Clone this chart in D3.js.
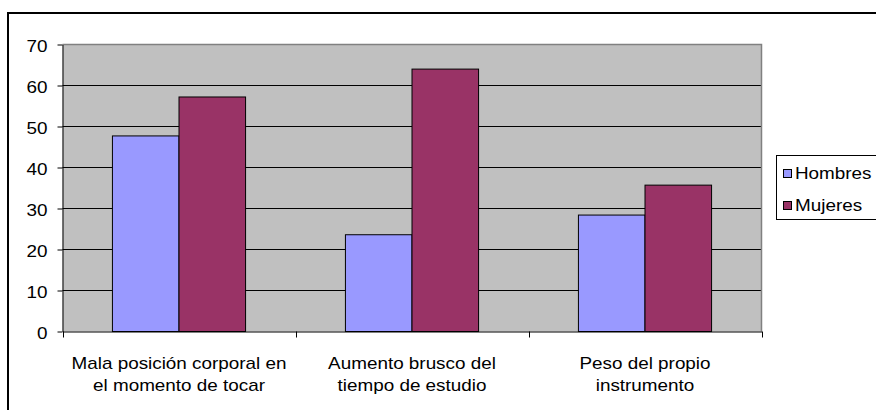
<!DOCTYPE html>
<html>
<head>
<meta charset="utf-8">
<script src="https://cdn.jsdelivr.net/npm/d3@7"></script>
<style>
  html, body { margin: 0; padding: 0; background: #fff; }
  svg { display: block; }
  text { font-family: "Liberation Sans", Arial, sans-serif; font-size: 16px; fill: #000; }
</style>
</head>
<body>
<svg id="chart" width="876" height="410"></svg>
<script>
// Categories (two-line labels) and series values
const categories = [
  ["Mala posición corporal en", "el momento de tocar"],
  ["Aumento brusco del", "tiempo de estudio"],
  ["Peso del propio", "instrumento"]
];
const seriesNames = ["Hombres", "Mujeres"];
const hombres = [47.7, 23.6, 28.4];
const mujeres = [57.2, 64.0, 35.7];
const seriesColors = ["#9999FF", "#993366"];
const yTicks = [0, 10, 20, 30, 40, 50, 60, 70];

const svg = d3.select("#chart");
const TX = 1.18; // horizontal text stretch

const plot = { left: 62.5, right: 761.5, top: 44.5, bottom: 331.5 };

// Outer chart frame (left and top edges visible)
svg.append("rect")
  .attr("x", 8).attr("y", 13)
  .attr("width", 920).attr("height", 450)
  .attr("fill", "none").attr("stroke", "#000").attr("stroke-width", 2);

const catKeys = categories.map((c, i) => i);
const x = d3.scaleBand().domain(catKeys).range([plot.left, plot.right]).paddingInner(0).paddingOuter(0);
const xs = d3.scaleBand().domain(seriesNames).range([0, x.bandwidth()]).paddingInner(0).paddingOuter(0.75);
const y = d3.scaleLinear().domain([0, 70]).range([plot.bottom, plot.top]);

// Plot area background
svg.append("rect")
  .attr("x", plot.left).attr("y", plot.top)
  .attr("width", plot.right - plot.left).attr("height", plot.bottom - plot.top)
  .attr("fill", "#C0C0C0");

// Gridlines
svg.append("g")
  .selectAll("line")
  .data(yTicks.filter(t => t > 0 && t < 70))
  .join("line")
  .attr("x1", plot.left).attr("x2", plot.right)
  .attr("y1", d => y(d)).attr("y2", d => y(d))
  .attr("stroke", "#000").attr("stroke-width", 1);

// Plot area border (top and right in grey)
svg.append("path")
  .attr("d", `M${plot.left},${plot.top}H${plot.right}V${plot.bottom}`)
  .attr("fill", "none").attr("stroke", "#808080").attr("stroke-width", 1.5);

// Bars
const rows = catKeys.map(i => ({ i, values: [hombres[i], mujeres[i]] }));
svg.append("g")
  .selectAll("g")
  .data(rows)
  .join("g")
  .attr("transform", d => `translate(${x(d.i)},0)`)
  .selectAll("rect")
  .data(d => d.values.map((v, k) => ({ k, v })))
  .join("rect")
  .attr("x", d => xs(seriesNames[d.k]))
  .attr("width", xs.bandwidth())
  .attr("y", d => y(d.v))
  .attr("height", d => y(0) - y(d.v))
  .attr("fill", d => seriesColors[d.k])
  .attr("stroke", "#000").attr("stroke-width", 1);

// Y axis
const yAxis = svg.append("g")
  .attr("transform", `translate(${plot.left},0)`)
  .call(d3.axisLeft(y).tickValues(yTicks).tickSize(5).tickSizeOuter(0).tickFormat(d3.format("d")));
yAxis.select(".domain").attr("stroke", "#000");
yAxis.selectAll(".tick line").attr("stroke", "#000");
yAxis.selectAll(".tick text")
  .attr("x", null).attr("dy", null)
  .attr("font-size", null).attr("font-family", null)
  .attr("text-anchor", "end")
  .attr("transform", `translate(-15,7) scale(${TX},1)`);

// X axis
const xAxis = svg.append("g")
  .attr("transform", `translate(0,${plot.bottom})`)
  .call(d3.axisBottom(x).tickSize(0).tickSizeOuter(0).tickFormat(""));
xAxis.select(".domain").attr("stroke", "#000");
xAxis.selectAll(".tick").remove();
const boundaries = catKeys.map(i => x(i)).concat([x(catKeys[catKeys.length - 1]) + x.bandwidth()]);
xAxis.selectAll("line.bound")
  .data(boundaries)
  .join("line")
  .attr("class", "bound")
  .attr("x1", d => Math.round(d) + 0.5).attr("x2", d => Math.round(d) + 0.5)
  .attr("y1", 0).attr("y2", 6)
  .attr("stroke", "#000");

// Category labels
const catLabels = svg.append("g");
categories.forEach((lines, i) => {
  const cx = x(i) + x.bandwidth() / 2;
  lines.forEach((line, j) => {
    catLabels.append("text")
      .attr("text-anchor", "middle")
      .attr("transform", `translate(${cx},${369 + j * 22}) scale(${TX},1)`)
      .text(line);
  });
});

// Legend
const legend = svg.append("g");
legend.append("rect")
  .attr("x", 776.5).attr("y", 155.5)
  .attr("width", 140).attr("height", 64)
  .attr("fill", "#fff").attr("stroke", "#000").attr("stroke-width", 1);
seriesNames.forEach((name, k) => {
  const base = 179 + k * 32;
  legend.append("rect")
    .attr("x", 783.5).attr("y", base - 9.5)
    .attr("width", 8).attr("height", 8)
    .attr("fill", seriesColors[k]).attr("stroke", "#000").attr("stroke-width", 1);
  legend.append("text")
    .attr("font-size", "17px")
    .attr("transform", `translate(795,${base}) scale(${TX},1)`)
    .text(name);
});
</script>
</body>
</html>
